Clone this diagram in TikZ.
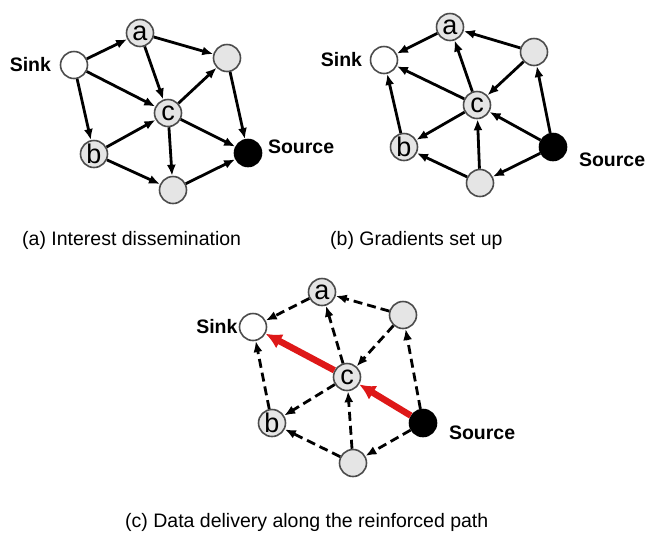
\documentclass[tikz,border=0pt]{standalone}
\usepackage{fontspec}
\setmainfont{Liberation Sans}
\usetikzlibrary{arrows.meta,positioning}
\definecolor{pathred}{RGB}{222,24,24}
\tikzset{every node/.style={align=center}, >={Latex[length=11pt,width=9pt]}, font=\fontsize{19.5}{22}\selectfont}
\tikzset{
  sensor/.style={circle,draw=black!70,line width=1.6pt,fill=black!10,minimum size=27pt,inner sep=0pt,font=\fontsize{27}{27}\selectfont},
  sinknode/.style={sensor,fill=white},
  srcnode/.style={sensor,fill=black,draw=black},
  lbl/.style={font=\bfseries\fontsize{19.5}{22}\selectfont,inner sep=0pt},
  captext/.style={anchor=west,inner sep=0pt},
  link/.style={->,line width=2.8pt},
  weak/.style={link,dash pattern=on 9pt off 5pt},
  hot/.style={-{Latex[length=16pt,width=16pt]},line width=6.5pt,color=pathred}
}

\begin{document}
\begin{tikzpicture}[x=1pt,y=-1pt]
    \useasboundingbox (0,0) rectangle (648,542);

    % (a) interest dissemination
    \node [sinknode] (sa) at (74,65) {};
    \node [sensor] (aa) at (140,33) {a};
    \node [sensor] (ra) at (227,58) {};
    \node [sensor] (ca) at (168,113) {c};
    \node [sensor] (ba) at (94,154) {b};
    \node [sensor] (da) at (173,190) {};
    \node [srcnode] (oa) at (248,153) {};
    \node [lbl] (sinka) [left=8.5pt of sa] {Sink};
    \node [lbl] (sourcea) [right=5.5pt of oa,yshift=6pt] {Source};

    \path[link] (sa) edge (aa) edge (ca) edge (ba)
        (aa) edge (ra) edge (ca)
        (ca) edge (ra) edge (oa) edge (da)
        (ba) edge (ca) edge (da)
        (ra) edge (oa)
        (da) edge (oa);

    % (b) gradients
    \node [sinknode] (sb) at (384,60) {};
    \node [sensor] (ab) at (450,27) {a};
    \node [sensor] (rb) at (534,52) {};
    \node [sensor] (cb) at (477,105) {c};
    \node [sensor] (bb) at (404,147) {b};
    \node [sensor] (db) at (480,183) {};
    \node [srcnode] (ob) at (553,147) {};
    \node [lbl] (sinkb) [left=7.5pt of sb] {Sink};
    \node [lbl] (sourceb) [right=11.5pt of ob,yshift=-13pt] {Source};

    \path[link] (ab) edge (sb)
        (cb) edge (sb) edge (ab) edge (bb)
        (bb) edge (sb)
        (rb) edge (ab) edge (cb)
        (db) edge (bb) edge (cb)
        (ob) edge (cb) edge (rb) edge (db);

    % (c) reinforced path
    \node [sinknode] (sc) at (253,327) {};
    \node [sensor] (ac) at (322,292) {a};
    \node [sensor] (rc) at (403,315) {};
    \node [sensor] (cc) at (347,377) {c};
    \node [sensor] (bc) at (272,423) {b};
    \node [sensor] (dc) at (353,463) {};
    \node [srcnode] (oc) at (423,423) {};
    \node [lbl] (sinkc) [left=1pt of sc] {Sink};
    \node [lbl] (sourcec) [right=11.5pt of oc,yshift=-10pt] {Source};

    \path[weak] (ac) edge (sc)
        (cc) edge (ac) edge (bc)
        (rc) edge (ac) edge (cc)
        (bc) edge (sc)
        (dc) edge (bc) edge (cc)
        (oc) edge (dc) edge (rc);
    \path[hot] (cc) edge (sc)
        (oc) edge (cc);

    % captions
    \node [captext] (capa) at (22,240) {(a) Interest dissemination};
    \node [captext] (capb) at (330,240) {(b) Gradients set up};
    \node [captext] (capc) at (125,522) {(c) Data delivery along the reinforced path};
\end{tikzpicture}
\end{document}
